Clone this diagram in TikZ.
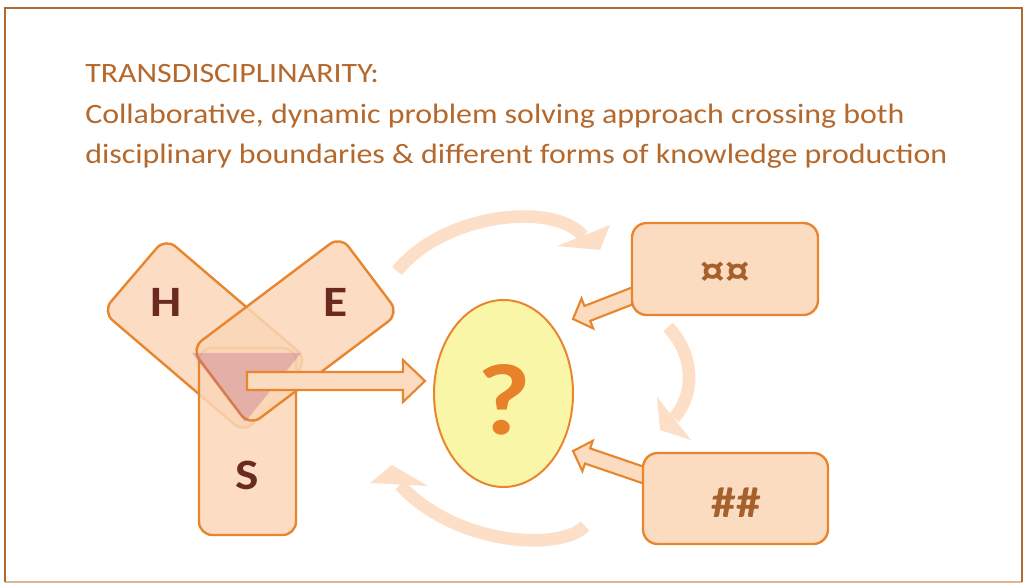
\documentclass[tikz,border=0pt]{standalone}
\usepackage{fontspec}
\setmainfont[FakeStretch=1.14]{Carlito}
\usetikzlibrary{calc,shapes.geometric}
\definecolor{frameC}{HTML}{B06A30}
\definecolor{frameL}{HTML}{D8B898}
\definecolor{titleC}{HTML}{B4682C}
\definecolor{peach}{HTML}{FCDCC1}
\definecolor{peachT}{HTML}{FBD6B7}
\definecolor{arcC}{HTML}{FDDEC6}
\definecolor{edgeC}{HTML}{E8862F}
\definecolor{yel}{HTML}{FAF6A8}
\definecolor{maroonC}{HTML}{6B2A1F}
\definecolor{symC}{HTML}{A5602C}
\definecolor{qC}{HTML}{E8822A}
\definecolor{triC}{RGB}{185,105,140}
\newcommand\blockarrow[5]{%
  \path[blockarr] let \p1=(#1), \p2=(#2),
    \n1={atan2(\y2-\y1,\x2-\x1)}, \n2={veclen(\x2-\x1,\y2-\y1)} in
    [shift={(\p1)}, rotate=\n1]
    (0pt,#3) -- ({\n2*1pt-#5},#3) -- ({\n2*1pt-#5},#4) -- ({\n2*1pt},0pt)
    -- ({\n2*1pt-#5},-#4) -- ({\n2*1pt-#5},-#3) -- (0pt,-#3) -- cycle;}
\begin{document}
\begin{tikzpicture}[x=0.75pt,y=-0.75pt,
  discbox/.style={draw=edgeC, line width=1.8pt, fill=peachT, fill opacity=0.85,
    draw opacity=1, rounded corners=10pt, inner sep=0pt},
  rbox/.style={draw=edgeC, line width=1.8pt, fill=peach, rounded corners=11pt, inner sep=0pt},
  blockarr/.style={draw=edgeC, line width=1.6pt, fill=peach},
  arcband/.style={draw=arcC, line width=9.5pt},
  archead/.style={fill=arcC},
  lett/.style={font=\fontsize{32.5}{36}\selectfont\bfseries, inner sep=0pt},
  titletxt/.style={font=\fontsize{21}{30}\selectfont, text=titleC, inner sep=0pt, anchor=base west}]
\useasboundingbox (0,0) rectangle (1024,584);
% frame
\draw[frameL, line width=1pt] (5,582) -- (1022,582);
\draw[frameC, line width=1.5pt] (5,582) -- (5,8) -- (1022,8) -- (1022,582);
% title
\node[titletxt] (t1) at (85,83) {TRANSDISCIPLINARITY:};
\node[titletxt] (t2) at (85,124) {Collaborative, dynamic problem solving approach crossing both};
\node[titletxt] (t3) at (85,164) {disciplinary boundaries \& different forms of knowledge production};
% curved arrows
\coordinate (ta) at (397,271); \coordinate (tb) at (583,236);
\draw[arcband] (ta) .. controls (445,212) and (555,202) .. (tb);
\fill[archead] (610,225) -- (600,250) -- (557,246) -- cycle;
\coordinate (ra) at (668,327); \coordinate (rb) at (674,418);
\draw[arcband] (ra) .. controls (695,355) and (695,395) .. (rb);
\fill[archead] (657,397) -- (660,430) -- (691,440) -- cycle;
\coordinate (ba) at (585,526); \coordinate (bb) at (400,485);
\draw[arcband] (ba) .. controls (560,552) and (455,545) .. (bb);
\fill[archead] (370,483) -- (392,465) -- (428,486) -- cycle;
% disciplines
\node[discbox, minimum width=140.25pt, minimum height=72.75pt, rotate=-40.5] (H) at (205,335.5) {};
\node[discbox, minimum width=72.75pt, minimum height=140.25pt] (S) at (247.5,441.5) {};
\node[discbox, minimum width=140.25pt, minimum height=72.75pt, rotate=37] (E) at (295,331) {};
\fill[triC, fill opacity=0.35] (192,353) -- (301,353) -- (245,422) -- cycle;
% arrow to the question
\coordinate (la) at (247,381); \coordinate (lb) at (425,381);
\blockarrow{la}{lb}{6.75pt}{15.75pt}{16.5pt}
% question ellipse
\node[draw=edgeC, line width=1.5pt, fill=yel, ellipse, minimum width=104.25pt,
  minimum height=140.25pt, inner sep=0pt] (Q) at (503.5,393.5) {};
\node[font=\fontsize{76}{80}\selectfont\bfseries, text=qC, inner sep=0pt] (qm) at (504.5,399.5) {?};
% right boxes and their arrows
\coordinate (a1) at (645,291); \coordinate (a1t) at (573,319);
\blockarrow{a1}{a1t}{6pt}{12pt}{11.5pt}
\coordinate (a2) at (655,479); \coordinate (a2t) at (573,451);
\blockarrow{a2}{a2t}{6pt}{12pt}{11.5pt}
\node[rbox, minimum width=139.5pt, minimum height=69pt] (B1) at (725,269) {};
\node[rbox, minimum width=138.75pt, minimum height=68.25pt] (B2) at (735.5,498.5) {};
\node[lett, text=symC] (cur) at (725,274) {¤¤};
\node[lett, text=symC] (hash) at (736,502.5) {\#\#};
% letters
\node[lett, text=maroonC] (Hl) at (166.5,302) {H};
\node[lett, text=maroonC] (El) at (335.5,302) {E};
\node[lett, text=maroonC] (Sl) at (247.5,475) {S};
\end{tikzpicture}
\end{document}
